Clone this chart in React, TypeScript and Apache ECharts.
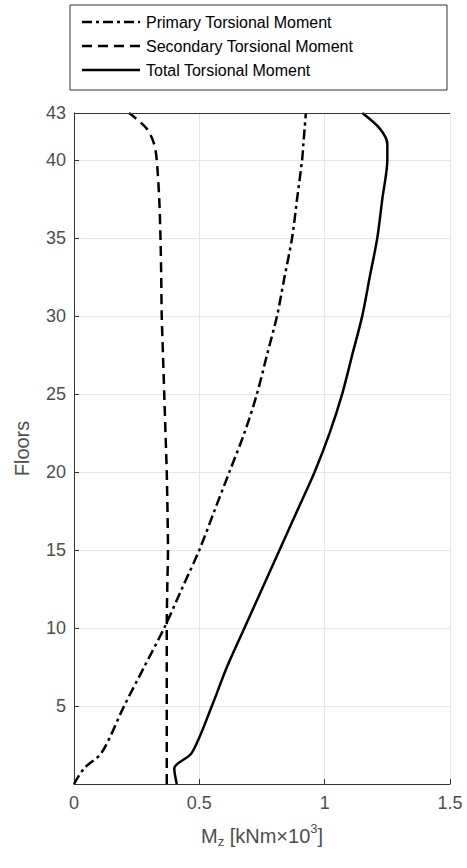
import * as echarts from "echarts";
import { useEffect, useRef } from "react";

const floors = [0, 1, 2, 5, 7.5, 10, 12.5, 15, 17.5, 20, 22.5, 25, 27.5, 30, 32.5, 35, 37.5, 40, 41, 42, 43];
const primary = [0.0, 0.04, 0.11, 0.2, 0.28, 0.36, 0.43, 0.5, 0.56, 0.62, 0.68, 0.73, 0.77, 0.81, 0.84, 0.87, 0.89, 0.91, 0.915, 0.92, 0.925];
const secondary = [0.37, 0.37, 0.37, 0.37, 0.37, 0.37, 0.372, 0.375, 0.373, 0.37, 0.365, 0.36, 0.355, 0.35, 0.348, 0.345, 0.34, 0.33, 0.32, 0.29, 0.22];
const total = [0.41, 0.4, 0.47, 0.55, 0.61, 0.68, 0.75, 0.82, 0.89, 0.96, 1.02, 1.07, 1.11, 1.15, 1.18, 1.21, 1.23, 1.25, 1.25, 1.22, 1.15];
const names = ["Primary Torsional Moment", "Secondary Torsional Moment", "Total Torsional Moment"];
const dashes: any[] = [[10, 4, 3, 4], [10, 6], "solid"];

const FONT = "Liberation Sans";
const TXT = "#4d4d4d";

export default function App() {
  const ref = useRef<HTMLDivElement>(null);
  useEffect(() => {
    document.body.style.margin = "0";
    const el = ref.current;
    if (!el) return;
    const chart = echarts.init(el, null, { renderer: "svg" });
    const mk = (name: string, vals: number[], type: any) => ({
      name,
      type: "line",
      data: vals.map((v, i) => [v, floors[i]]),
      symbol: "none",
      smooth: 0.3,
      lineStyle: { color: "#000", width: 2.5, type },
    });
    const legendEls: any[] = [
      { type: "rect", shape: { x: 70, y: 5, width: 377, height: 85 }, style: { fill: "#fff", stroke: "#333", lineWidth: 1 } },
    ];
    names.forEach((n, i) => {
      const y = 22 + i * 24;
      legendEls.push({ type: "line", shape: { x1: 82, y1: y, x2: 140, y2: y }, style: { stroke: "#000", lineWidth: 2.5, lineDash: dashes[i] === "solid" ? null : dashes[i] } });
      legendEls.push({ type: "text", x: 146, y, style: { text: n, fontSize: 16, fontFamily: FONT, fill: "#000", verticalAlign: "middle" } });
    });
    chart.setOption({
      animation: false,
      textStyle: { fontFamily: FONT },
      grid: { left: 74, right: 17, top: 113, bottom: 84 },
      graphic: legendEls,
      xAxis: {
        type: "value",
        min: 0,
        max: 1.5,
        interval: 0.5,
        name: "{a|M}{s|z}{a| [kNm×10}{p|3}{a|]}",
        nameLocation: "middle",
        nameGap: 38,
        nameTextStyle: {
          rich: {
            a: { fontSize: 20, color: TXT, fontFamily: FONT },
            s: { fontSize: 13, color: TXT, fontFamily: FONT, padding: [12, 0, 0, 0] },
            p: { fontSize: 13, color: TXT, fontFamily: FONT, padding: [0, 0, 14, 0] },
          },
        },
        axisLine: { onZero: false, lineStyle: { color: "#333" } },
        axisTick: { inside: true, length: 5, lineStyle: { color: "#333" } },
        axisLabel: { fontSize: 18, color: TXT, margin: 10, formatter: (v: number) => String(v) },
        splitLine: { lineStyle: { color: "#e6e6e6" } },
      },
      yAxis: [
        {
          type: "value",
          min: 0,
          max: 43,
          interval: 5,
          name: "Floors",
          nameLocation: "middle",
          nameGap: 42,
          nameTextStyle: { fontSize: 20, color: TXT },
          axisLine: { show: true, onZero: false, lineStyle: { color: "#333" } },
          axisTick: { inside: true, length: 5, lineStyle: { color: "#333" } },
          axisLabel: {
            fontSize: 18,
            color: TXT,
            margin: 8,
            showMaxLabel: true,
            formatter: (v: number) => (v === 0 ? "" : String(v)),
          },
          splitLine: { lineStyle: { color: "#e6e6e6" } },
        },
        {
          type: "value",
          min: 0,
          max: 43,
          position: "right",
          axisLine: { show: true, lineStyle: { color: "#333" } },
          axisTick: { show: false },
          axisLabel: { show: false },
          splitLine: { show: false },
        },
      ],
      series: [
        mk(names[0], primary, dashes[0]),
        mk(names[1], secondary, dashes[1]),
        mk(names[2], total, dashes[2]),
        {
          type: "line",
          data: [],
          markLine: {
            silent: true,
            symbol: "none",
            label: { show: false },
            lineStyle: { color: "#333", width: 1, type: "solid" },
            data: [{ yAxis: 43 }],
          },
        },
      ],
    });
    return () => chart.dispose();
  }, []);
  return <div ref={ref} style={{ width: 467, height: 868 }} />;
}
